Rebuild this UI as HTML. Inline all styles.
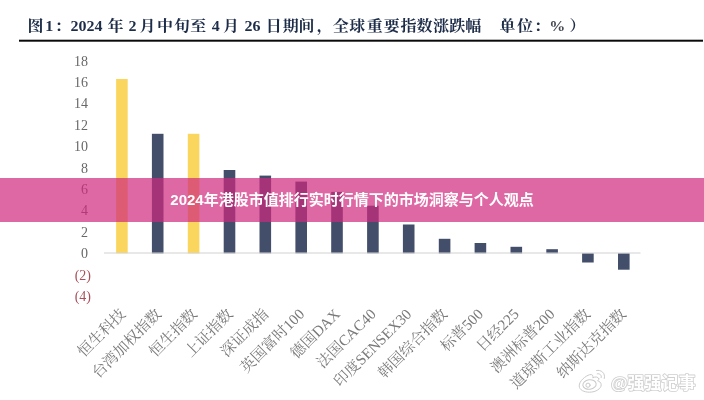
<!DOCTYPE html>
<html lang="zh-CN">
<head>
<meta charset="utf-8">
<title>2024年港股市值排行实时行情下的市场洞察与个人观点</title>
<style>
html,body{margin:0;padding:0;background:#fff;}
body{width:704px;height:400px;position:relative;overflow:hidden;font-family:"Liberation Serif","Noto Serif CJK SC",serif;}
.chart{position:absolute;left:0;top:0;width:704px;height:400px;display:block;will-change:transform;filter:blur(0.4px);}
.chart text{font-family:"Liberation Serif","Noto Serif CJK SC",serif;}
.t-title{font-weight:bold;font-size:16px;fill:#1d2c48;}
.ylab{font-size:14px;fill:#686868;text-anchor:end;}
.ylab.neg{fill:#a9505c;}
.xlab text{font-size:15.1px;fill:#7a7a7a;}
.banner{position:absolute;left:0;top:178px;width:704px;height:44px;background:rgba(208,40,126,0.70);}
.banner h1{position:absolute;left:0;top:0;width:704px;height:44px;margin:0;line-height:44px;text-align:center;
  font-family:"Liberation Sans","Noto Sans CJK SC",sans-serif;font-size:15px;font-weight:bold;color:#fff;white-space:nowrap;overflow:hidden;}
.wm{position:absolute;left:560px;top:360px;width:144px;height:40px;}
.wm svg{filter:blur(0.55px);}
.wm svg text{font-family:"Liberation Sans","Noto Sans CJK SC",sans-serif;font-weight:bold;font-size:17px;}
</style>
</head>
<body>
<svg class="chart" width="704" height="400" viewBox="0 0 704 400">
<g class="title">
<text class="t-title" transform="translate(0 31.2) scale(1 0.93)" y="0"><tspan class="cjk" x="27.6">图</tspan><tspan x="45.3">1</tspan><tspan class="cjk" x="54.8">：</tspan><tspan x="70.5">2024</tspan><tspan class="cjk" x="107.5">年</tspan><tspan x="128.5">2</tspan><tspan class="cjk" x="139.5">月</tspan><tspan class="cjk" x="157">中</tspan><tspan class="cjk" x="173.9">旬</tspan><tspan class="cjk" x="190.3">至</tspan><tspan x="211.7">4</tspan><tspan class="cjk" x="222.9">月</tspan><tspan x="244.6">26</tspan><tspan class="cjk" x="265.7">日</tspan><tspan class="cjk" x="282.7">期</tspan><tspan class="cjk" x="298.6">间</tspan><tspan class="cjk" x="316.8">，</tspan><tspan class="cjk" x="332.7">全</tspan><tspan class="cjk" x="349.3">球</tspan><tspan class="cjk" x="366.7">重</tspan><tspan class="cjk" x="383.7">要</tspan><tspan class="cjk" x="400.4">指</tspan><tspan class="cjk" x="416.4">数</tspan><tspan class="cjk" x="433.2">涨</tspan><tspan class="cjk" x="449.2">跌</tspan><tspan class="cjk" x="465.3">幅</tspan><tspan class="cjk" x="491.5">（</tspan><tspan class="cjk" x="499.4">单</tspan><tspan class="cjk" x="517.1">位</tspan><tspan class="cjk" x="534.1">：</tspan><tspan x="549.3" fill="#454a55">%</tspan><tspan class="cjk" x="569.6">）</tspan></text>
</g>
<rect x="19" y="39.7" width="684" height="2" fill="#0a0a0a"/>
<text class="ylab" x="87.9" y="66">18</text>
<text class="ylab" x="87.9" y="87">16</text>
<text class="ylab" x="87.9" y="108">14</text>
<text class="ylab" x="87.9" y="130">12</text>
<text class="ylab" x="87.9" y="151">10</text>
<text class="ylab" x="87.9" y="173">8</text>
<text class="ylab" x="87.9" y="194">6</text>
<text class="ylab" x="87.9" y="215">4</text>
<text class="ylab" x="87.9" y="237">2</text>
<text class="ylab" x="87.9" y="258">0</text>
<text class="ylab neg" x="91" y="280">(2)</text>
<text class="ylab neg" x="91" y="301">(4)</text>
<g class="bars">
<rect x="116.1" y="79" width="11.6" height="174.3" fill="#fbd65f"/>
<rect x="151.9" y="133.8" width="11.6" height="119.6" fill="#424e6a"/>
<rect x="187.8" y="133.8" width="11.6" height="119.6" fill="#fbd65f"/>
<rect x="223.7" y="170" width="11.6" height="83.3" fill="#424e6a"/>
<rect x="259.5" y="175.6" width="11.6" height="77.7" fill="#424e6a"/>
<rect x="295.4" y="181.6" width="11.6" height="71.7" fill="#424e6a"/>
<rect x="331.2" y="191.9" width="11.6" height="61.4" fill="#424e6a"/>
<rect x="367.1" y="205.7" width="11.6" height="47.6" fill="#424e6a"/>
<rect x="402.9" y="224.5" width="11.6" height="28.8" fill="#424e6a"/>
<rect x="438.8" y="238.8" width="11.6" height="14.6" fill="#424e6a"/>
<rect x="474.6" y="243" width="11.6" height="10.3" fill="#424e6a"/>
<rect x="510.5" y="246.8" width="11.6" height="6.6" fill="#424e6a"/>
<rect x="546.3" y="249.2" width="11.6" height="4.1" fill="#424e6a"/>
<rect x="582.1" y="253.3" width="11.6" height="9.2" fill="#424e6a"/>
<rect x="618" y="253.3" width="11.6" height="16.4" fill="#424e6a"/>
</g>
<rect x="104" y="252.5" width="536.5" height="1" fill="#d2d2d2"/>
<g class="xlab">
<g transform="translate(126.5 315) rotate(-45)"><text y="0"><tspan class="cjk" x="-60.4">恒生科技</tspan></text></g>
<g transform="translate(162.2 315) rotate(-45)"><text y="0"><tspan class="cjk" x="-90.6">台湾加权指数</tspan></text></g>
<g transform="translate(198 315) rotate(-45)"><text y="0"><tspan class="cjk" x="-60.4">恒生指数</tspan></text></g>
<g transform="translate(233.8 315) rotate(-45)"><text y="0"><tspan class="cjk" x="-60.4">上证指数</tspan></text></g>
<g transform="translate(269.5 315) rotate(-45)"><text y="0"><tspan class="cjk" x="-60.4">深证成指</tspan></text></g>
<g transform="translate(305.2 315) rotate(-45)"><text y="0"><tspan class="cjk" x="-83">英国富时</tspan><tspan x="-22.6">100</tspan></text></g>
<g transform="translate(341 315) rotate(-45)"><text y="0"><tspan class="cjk" x="-62.9">德国</tspan><tspan x="-32.7">DAX</tspan></text></g>
<g transform="translate(376.8 315) rotate(-45)"><text y="0"><tspan class="cjk" x="-76.3">法国</tspan><tspan x="-46.1">CAC40</tspan></text></g>
<g transform="translate(412.5 315) rotate(-45)"><text y="0"><tspan class="cjk" x="-102.4">印度</tspan><tspan x="-72.2">SENSEX30</tspan></text></g>
<g transform="translate(448.2 315) rotate(-45)"><text y="0"><tspan class="cjk" x="-90.6">韩国综合指数</tspan></text></g>
<g transform="translate(484 315) rotate(-45)"><text y="0"><tspan class="cjk" x="-52.8">标普</tspan><tspan x="-22.6">500</tspan></text></g>
<g transform="translate(519.8 315) rotate(-45)"><text y="0"><tspan class="cjk" x="-52.8">日经</tspan><tspan x="-22.6">225</tspan></text></g>
<g transform="translate(555.5 315) rotate(-45)"><text y="0"><tspan class="cjk" x="-83">澳洲标普</tspan><tspan x="-22.6">200</tspan></text></g>
<g transform="translate(591.2 315) rotate(-45)"><text y="0"><tspan class="cjk" x="-105.7">道琼斯工业指数</tspan></text></g>
<g transform="translate(627 315) rotate(-45)"><text y="0"><tspan class="cjk" x="-90.6">纳斯达克指数</tspan></text></g>
</g>
</svg>
<div class="banner"><h1>2024年港股市值排行实时行情下的市场洞察与个人观点</h1></div>
<div class="wm"><svg width="144" height="40" viewBox="0 0 144 40"><g transform="translate(0.2 -0.8)" fill="#fff" stroke="#cacaca" stroke-width="1" stroke-linejoin="round" stroke-linecap="round">
<path d="M38.6 19.4c-.8-2-3.500-2.100-6-.8c.7-2.200-.5-3.900-3.200-3.100c-4 1.200-10.400 6.200-10.400 11.200c0 4.100 5 6.300 10.200 6.300c6.600 0 11.800-3.600 11.800-7.400c0-2.500-2-3.500-3.600-3.900c.8-.8 1.600-1.500 1.200-2.300z"/>
<ellipse cx="29.300" cy="25.300" rx="6.700" ry="4.800" transform="rotate(-8 29.300 25.300)"/>
<circle cx="27.800" cy="26" r="2.100"/>
<path fill="none" d="M36.3 11.300c4.700-1.100 9.200 2.700 7.800 8"/>
<path fill="none" d="M37 14.600c2.500-.6 4.700 1.300 4 3.800"/>
</g><text x="51" y="29" fill="#fff" paint-order="stroke" stroke="#cfcfcf" stroke-width="1.7" stroke-linejoin="round">@强强记事</text></svg></div>
</body>
</html>
